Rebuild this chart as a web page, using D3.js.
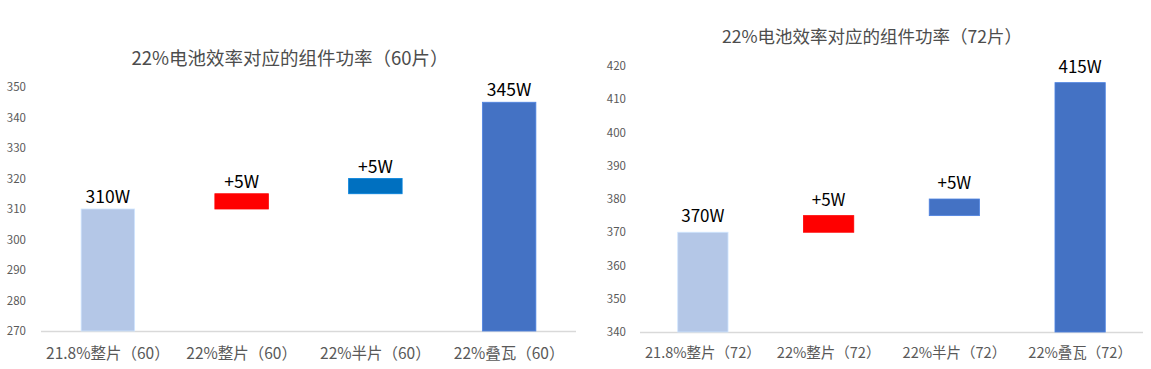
<!DOCTYPE html>
<html lang="zh">
<head>
<meta charset="UTF-8">
<title>组件功率</title>
<script src="https://cdn.jsdelivr.net/npm/d3@7"></script>
<style>
  body { margin: 0; background: #fff; }
  svg { display: block; font-family: "Noto Sans CJK SC", "Noto Sans", sans-serif; }
</style>
</head>
<body>
<script>
// data
const cats60 = ['21.8%整片（60）', '22%整片（60）', '22%半片（60）', '22%叠瓦（60）'];
const vals60 = [310, 5, 5, 345];
const labels60 = ['310W', '+5W', '+5W', '345W'];
const domain60 = [270, 350];

const cats72 = ['21.8%整片（72）', '22%整片（72）', '22%半片（72）', '22%叠瓦（72）'];
const vals72 = [370, 5, 5, 415];
const labels72 = ['370W', '+5W', '+5W', '415W'];
const domain72 = [340, 420];

const kinds = ['total', 'delta', 'delta', 'total'];

const width = 1151, height = 369;
const svg = d3.select('body').append('svg').attr('width', width).attr('height', height);

// floating bars: totals start at the axis floor, deltas stack on the running total
function waterfall(vals, base) {
  let run = 0;
  return vals.map(function(v, i) {
    if (kinds[i] === 'total') { run = v; return { lo: base, hi: v }; }
    const lo = run; run += v; return { lo: lo, hi: run };
  });
}

function drawPanel(o) {
  const g = svg.append('g');
  const x = d3.scaleBand().domain(o.cats).range([o.x0, o.x1]).paddingInner(0.6).paddingOuter(0.3);
  const y = d3.scaleLinear().domain(o.domain).range([o.yBottom, o.yTop]);
  const bars = waterfall(o.vals, o.domain[0]);

  // title
  g.append('text').attr('x', o.titleX).attr('y', o.titleY).attr('text-anchor', 'middle')
    .attr('font-size', o.titleSize).attr('fill', '#4d4d4d').text(o.title);

  // y axis labels
  const ya = d3.axisLeft(y).ticks(8).tickSize(0).tickPadding(0);
  g.append('g').attr('transform', 'translate(' + o.yLabelX + ',0)').call(ya)
    .call(function(s) { s.select('.domain').remove(); })
    .selectAll('text').attr('font-size', 11.5).attr('fill', '#595959')
    .attr('font-family', '"Noto Sans CJK SC", sans-serif');

  // x axis
  const xa = d3.axisBottom(x).tickSize(0).tickPadding(0);
  const xg = g.append('g').attr('transform', 'translate(0,' + o.yBottom + ')').call(xa);
  xg.select('.domain').remove();
  xg.selectAll('text').attr('font-size', o.catSize).attr('fill', '#595959')
    .attr('font-family', '"Noto Sans CJK SC", sans-serif')
    .attr('dy', null).attr('y', o.catDy);
  g.append('line').attr('x1', o.x0).attr('x2', o.x1).attr('y1', o.yBottom + 0.5).attr('y2', o.yBottom + 0.5)
    .attr('stroke', '#d9d9d9').attr('stroke-width', 1.5);

  // bars
  g.selectAll('.bar').data(bars).enter().append('rect').attr('class', 'bar')
    .attr('x', function(d, i) { return x(o.cats[i]); })
    .attr('width', x.bandwidth())
    .attr('y', function(d) { return y(d.hi); })
    .attr('height', function(d) { return y(d.lo) - y(d.hi); })
    .attr('fill', function(d, i) { return o.colors[i]; })
    .attr('stroke', function(d, i) { return d3.color(o.colors[i]).brighter(0.4); })
    .attr('stroke-width', 0.8);

  // value labels
  g.selectAll('.lbl').data(bars).enter().append('text').attr('class', 'lbl')
    .attr('x', function(d, i) { return x(o.cats[i]) + x.bandwidth() / 2; })
    .attr('y', function(d) { return y(d.hi) - o.lblGap; })
    .attr('text-anchor', 'middle').attr('font-size', o.lblSize).attr('fill', '#000')
    .text(function(d, i) { return o.labels[i]; });
}

drawPanel({
  cats: cats60, vals: vals60, labels: labels60, domain: domain60,
  title: '22%电池效率对应的组件功率（60片）',
  x0: 41, x1: 576, yTop: 87, yBottom: 331, yLabelX: 26,
  titleX: 290, titleY: 65, titleSize: 18.5, catSize: 15.5, catDy: 28, lblSize: 17.5, lblGap: 6,
  colors: ['#b4c7e7', '#ff0000', '#0070c0', '#4472c4']
});

drawPanel({
  cats: cats72, vals: vals72, labels: labels72, domain: domain72,
  title: '22%电池效率对应的组件功率（72片）',
  x0: 640, x1: 1143, yTop: 66, yBottom: 332, yLabelX: 626,
  titleX: 872, titleY: 43, titleSize: 17.5, catSize: 14.5, catDy: 26, lblSize: 17, lblGap: 10,
  colors: ['#b4c7e7', '#ff0000', '#4472c4', '#4472c4']
});
</script>
</body>
</html>
